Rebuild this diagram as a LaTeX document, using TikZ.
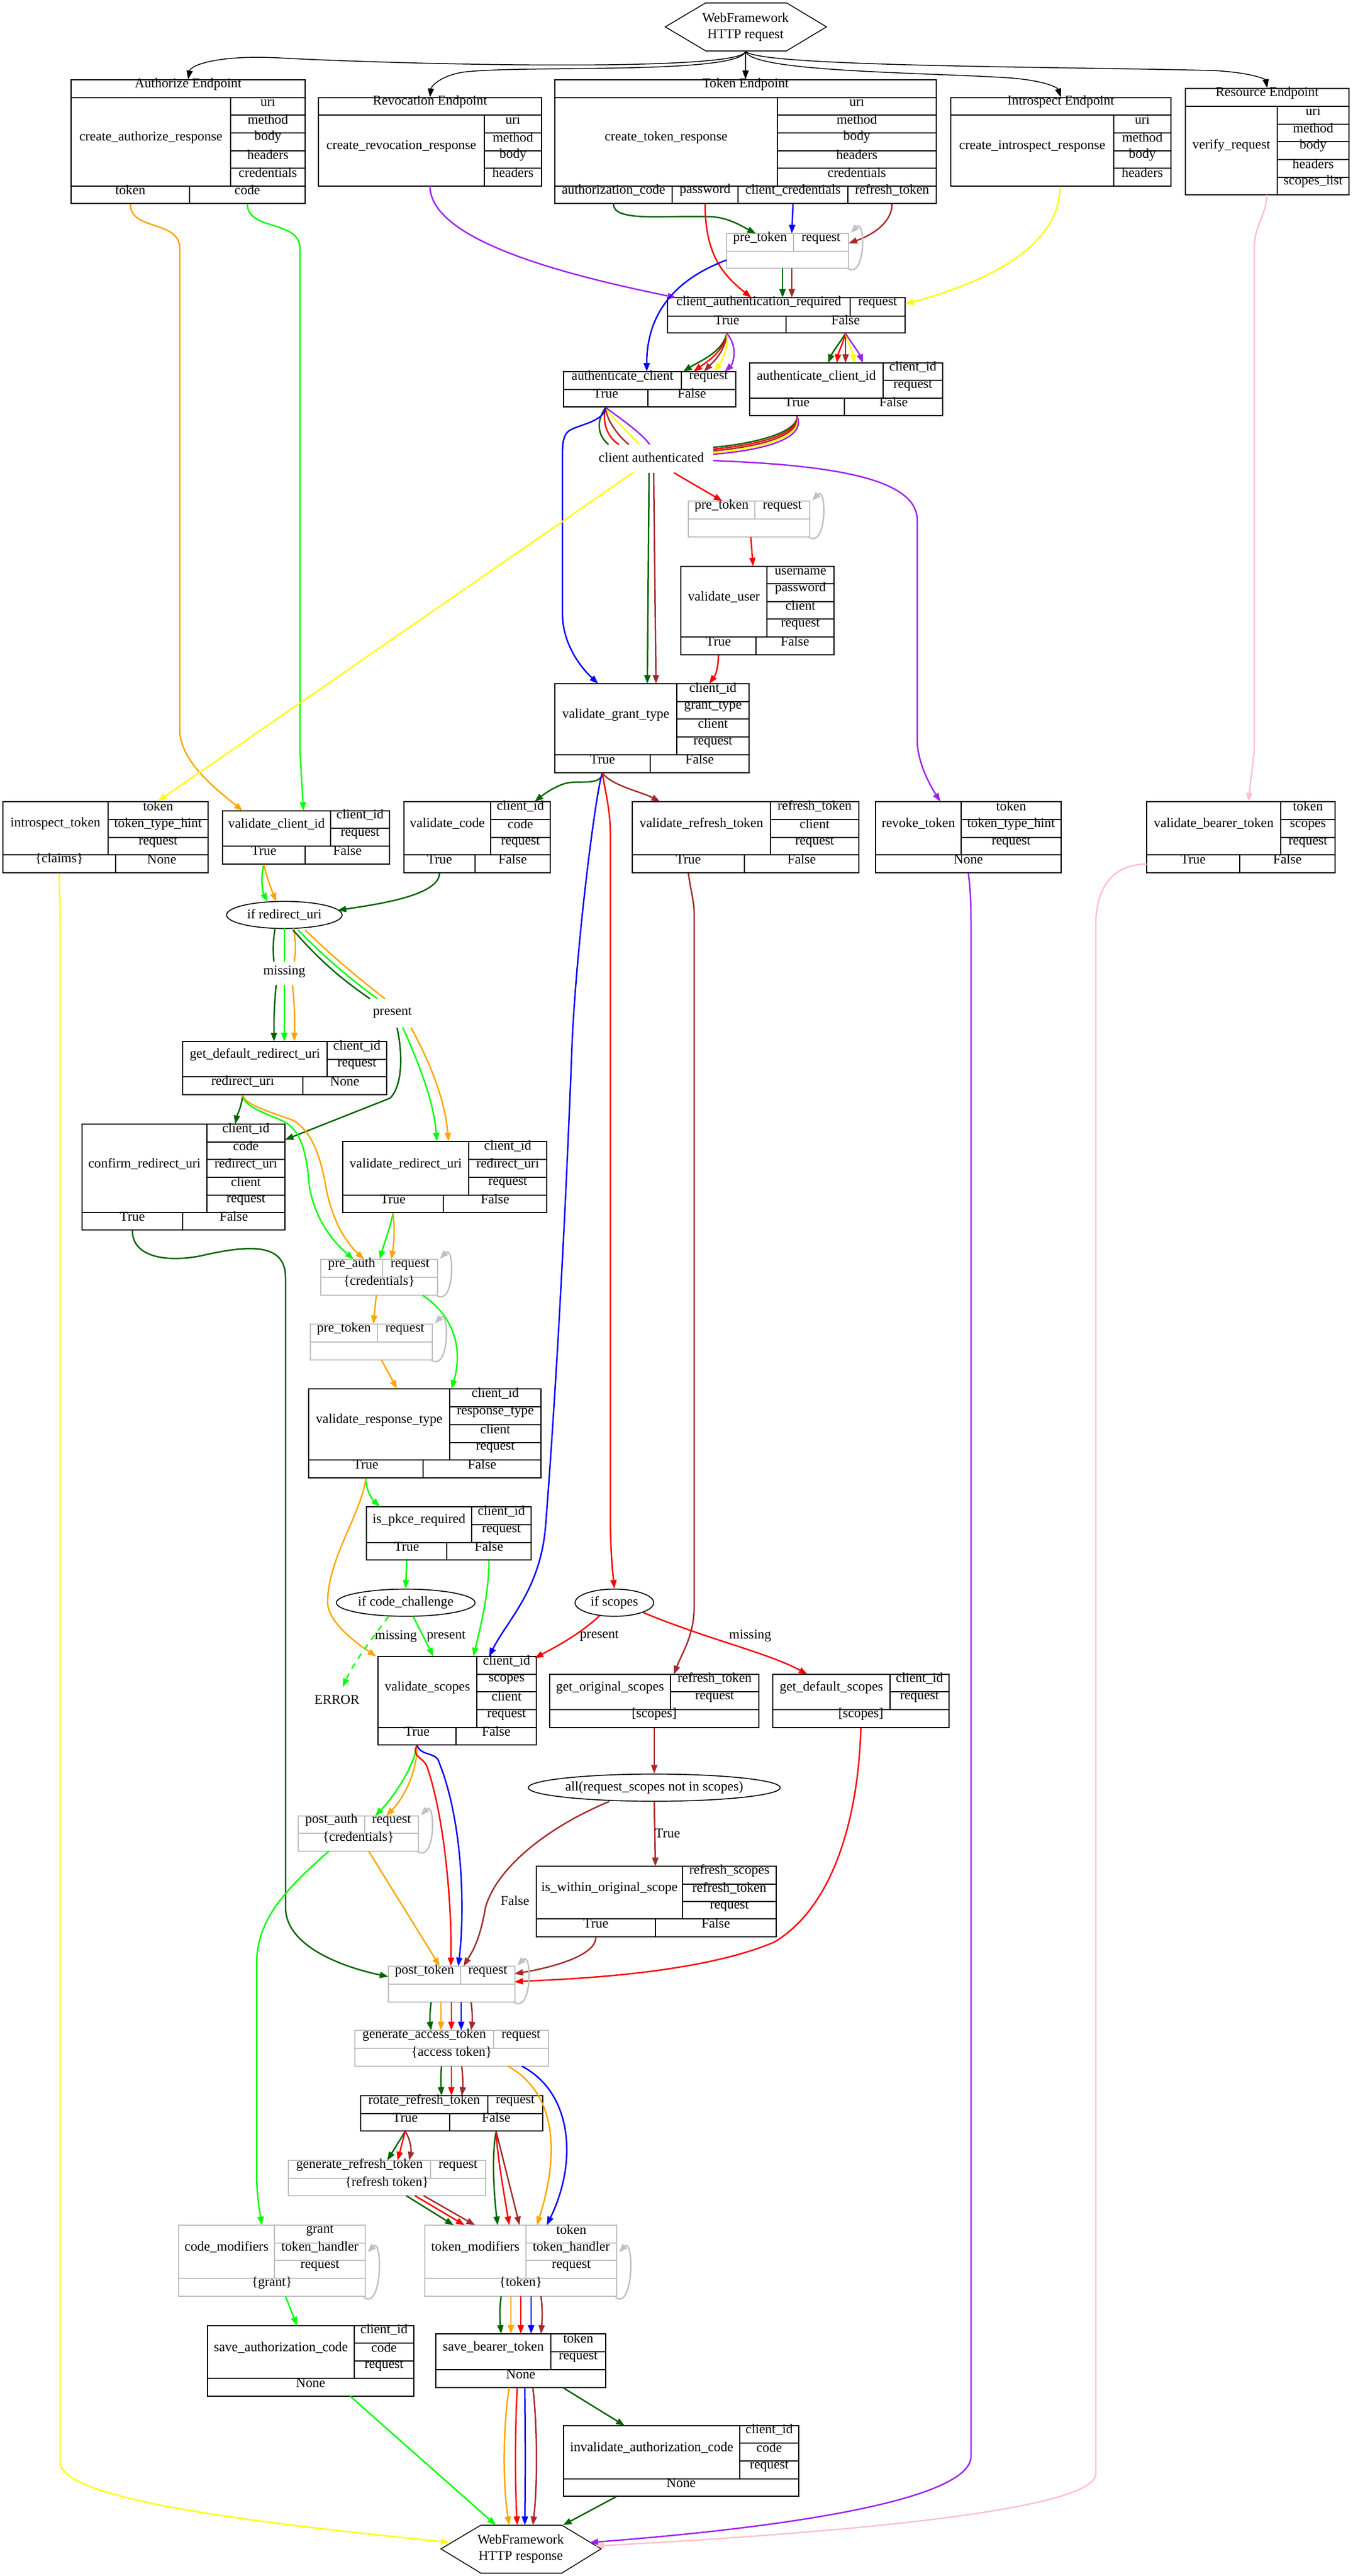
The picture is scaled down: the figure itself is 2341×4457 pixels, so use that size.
\documentclass[tikz,border=0pt]{standalone}
\usepackage{fontspec}
\setmainfont{Liberation Serif}
\usetikzlibrary{arrows.meta,fit,shapes.geometric}
\definecolor{dg}{RGB}{0,100,0}
\definecolor{lg}{RGB}{0,255,0}
\definecolor{og}{RGB}{255,165,0}
\definecolor{bw}{RGB}{165,42,42}
\definecolor{pp}{RGB}{160,32,240}
\definecolor{pk}{RGB}{255,192,203}
\definecolor{yl}{RGB}{255,255,0}
\definecolor{gy}{RGB}{192,192,192}
\newcommand\cl[7][c]{\node[#1,fit={(#3,#4)(#5,#6)}] (#2) {#7};}
\newcommand\sloop[3]{\draw[lp] (#1-2,#3) .. controls (#1+30,#3+22) and (#1+30,#2-28) .. (#1+4,#2-1);}
\begin{document}
\begin{tikzpicture}[x=0.3pt,y=-0.3pt,
 c/.style={draw,inner sep=0pt,line width=0.5pt},
 g/.style={draw=gy,inner sep=0pt,line width=0.5pt},
 e/.style={line width=0.75pt,-{Triangle[length=4.5pt,width=3.2pt]}},
 n/.style={line width=0.75pt},
 k/.style={line width=0.45pt,-{Triangle[length=4.5pt,width=3.2pt]}},
 lp/.style={gy,line width=0.75pt,-{Triangle[length=4.5pt,width=3.2pt]}},
 el/.style={ellipse,draw,inner sep=0pt,line width=0.5pt,minimum height=14.1pt},
 every node/.style={font=\fontsize{7}{8.4}\selectfont}]
\useasboundingbox (0,0) rectangle (2341,4457);
% request hexagon
\node[align=center,inner sep=0pt,minimum width=60pt,minimum height=24.9pt] (req) at (1290,46.5) {WebFramework\\HTTP request};
\draw[line width=0.45pt] (1221,5) -- (1361,5) -- (1430,46.5) -- (1361,88) -- (1221,88) -- (1151,46.5) -- cycle;
% Authorize
\cl{aeH}{123}{138}{528}{169}{Authorize Endpoint}
\cl{aeL}{123}{169}{399}{322}{create\_authorize\_response}
\cl{ae1}{399}{169}{528}{199}{uri}\cl{ae2}{399}{199}{528}{230}{method}\cl{ae3}{399}{230}{528}{261}{body}
\cl{ae4}{399}{261}{528}{291}{headers}\cl{ae5}{399}{291}{528}{322}{credentials}
\cl{aeT}{123}{322}{328}{352}{token}\cl{aeC}{328}{322}{528}{352}{code}
% Revocation
\cl{reH}{551}{169}{937}{199}{Revocation Endpoint}
\cl{reL}{551}{199}{838}{322}{create\_revocation\_response}
\cl{re1}{838}{199}{937}{230}{uri}\cl{re2}{838}{230}{937}{261}{method}\cl{re3}{838}{261}{937}{291}{body}\cl{re4}{838}{291}{937}{322}{headers}
% Token
\cl{teH}{960}{138}{1620}{169}{Token Endpoint}
\cl{teL}{960}{169}{1345}{322}{create\_token\_response}
\cl{te1}{1345}{169}{1620}{199}{uri}\cl{te2}{1345}{199}{1620}{230}{method}\cl{te3}{1345}{230}{1620}{261}{body}
\cl{te4}{1345}{261}{1620}{291}{headers}\cl{te5}{1345}{291}{1620}{322}{credentials}
\cl{teA}{960}{322}{1163}{352}{authorization\_code}\cl{teP}{1163}{322}{1277}{352}{password}
\cl{teC}{1277}{322}{1467}{352}{client\_credentials}\cl{teR}{1467}{322}{1620}{352}{refresh\_token}
% Introspect
\cl{ieH}{1645}{169}{2026}{199}{Introspect Endpoint}
\cl{ieL}{1645}{199}{1927}{322}{create\_introspect\_response}
\cl{ie1}{1927}{199}{2026}{230}{uri}\cl{ie2}{1927}{230}{2026}{261}{method}\cl{ie3}{1927}{261}{2026}{291}{body}\cl{ie4}{1927}{291}{2026}{322}{headers}
% Resource
\cl{rsH}{2051}{153}{2334}{184}{Resource Endpoint}
\cl{rsL}{2051}{184}{2210}{337}{verify\_request}
\cl{rs1}{2210}{184}{2334}{215}{uri}\cl{rs2}{2210}{215}{2334}{245}{method}\cl{rs3}{2210}{245}{2334}{276}{body}
\cl{rs4}{2210}{276}{2334}{307}{headers}\cl{rs5}{2210}{307}{2334}{337}{scopes\_list}
% pre_token 1
\cl[g]{p1a}{1257}{404}{1373}{435}{pre\_token}\cl[g]{p1b}{1373}{404}{1468}{435}{request}\cl[g]{p1c}{1257}{435}{1468}{464}{}
% client_authentication_required
\cl{carL}{1155}{515}{1471}{547}{client\_authentication\_required}\cl{carR}{1471}{515}{1566}{547}{request}
\cl{carT}{1155}{547}{1360}{576}{True}\cl{carF}{1360}{547}{1566}{576}{False}
% authenticate_client
\cl{acL}{975}{643}{1179}{674}{authenticate\_client}\cl{acR}{1179}{643}{1273}{674}{request}
\cl{acT}{975}{674}{1121}{704}{True}\cl{acF}{1121}{674}{1273}{704}{False}
% authenticate_client_id
\cl{aciL}{1297}{628}{1528}{689}{authenticate\_client\_id}\cl{aci1}{1528}{628}{1631}{658}{client\_id}\cl{aci2}{1528}{658}{1631}{689}{request}
\cl{aciT}{1297}{689}{1461}{719}{True}\cl{aciF}{1461}{689}{1631}{719}{False}
\node (cauth) at (1127,792) {client authenticated};
% pre_token 2
\cl[g]{p2a}{1191}{867}{1306}{898}{pre\_token}\cl[g]{p2b}{1306}{867}{1401}{898}{request}\cl[g]{p2c}{1191}{898}{1401}{929}{}
% validate_user
\cl{vuL}{1178}{980}{1327}{1102}{validate\_user}
\cl{vu1}{1327}{980}{1443}{1010}{username}\cl{vu2}{1327}{1010}{1443}{1041}{password}\cl{vu3}{1327}{1041}{1443}{1071}{client}\cl{vu4}{1327}{1071}{1443}{1102}{request}
\cl{vuT}{1178}{1102}{1308}{1133}{True}\cl{vuF}{1308}{1102}{1443}{1133}{False}
% validate_grant_type
\cl{vgL}{960}{1183}{1171}{1306}{validate\_grant\_type}
\cl{vg1}{1171}{1183}{1296}{1214}{client\_id}\cl{vg2}{1171}{1214}{1296}{1244}{grant\_type}\cl{vg3}{1171}{1244}{1296}{1275}{client}\cl{vg4}{1171}{1275}{1296}{1306}{request}
\cl{vgT}{960}{1306}{1125}{1337}{True}\cl{vgF}{1125}{1306}{1296}{1337}{False}
% introspect_token
\cl{itL}{5}{1387}{187}{1479}{introspect\_token}
\cl{it1}{187}{1387}{360}{1418}{token}\cl{it2}{187}{1418}{360}{1449}{token\_type\_hint}\cl{it3}{187}{1449}{360}{1479}{request}
\cl{itC}{5}{1479}{200}{1510}{\{claims\}}\cl{itN}{200}{1479}{360}{1510}{None}
% validate_client_id
\cl{vciL}{385}{1403}{572}{1464}{validate\_client\_id}\cl{vci1}{572}{1403}{674}{1433}{client\_id}\cl{vci2}{572}{1433}{674}{1464}{request}
\cl{vciT}{385}{1464}{528}{1495}{True}\cl{vciF}{528}{1464}{674}{1495}{False}
% validate_code
\cl{vcL}{699}{1387}{849}{1479}{validate\_code}
\cl{vc1}{849}{1387}{952}{1418}{client\_id}\cl{vc2}{849}{1418}{952}{1449}{code}\cl{vc3}{849}{1449}{952}{1479}{request}
\cl{vcT}{699}{1479}{822}{1510}{True}\cl{vcF}{822}{1479}{952}{1510}{False}
% validate_refresh_token
\cl{vrL}{1094}{1387}{1333}{1479}{validate\_refresh\_token}
\cl{vr1}{1333}{1387}{1486}{1418}{refresh\_token}\cl{vr2}{1333}{1418}{1486}{1449}{client}\cl{vr3}{1333}{1449}{1486}{1479}{request}
\cl{vrT}{1094}{1479}{1288}{1510}{True}\cl{vrF}{1288}{1479}{1486}{1510}{False}
% revoke_token
\cl{rtL}{1515}{1387}{1663}{1479}{revoke\_token}
\cl{rt1}{1663}{1387}{1836}{1418}{token}\cl{rt2}{1663}{1418}{1836}{1449}{token\_type\_hint}\cl{rt3}{1663}{1449}{1836}{1479}{request}
\cl{rtN}{1515}{1479}{1836}{1510}{None}
% validate_bearer_token
\cl{vbL}{1984}{1387}{2216}{1479}{validate\_bearer\_token}
\cl{vb1}{2216}{1387}{2310}{1418}{token}\cl{vb2}{2216}{1418}{2310}{1449}{scopes}\cl{vb3}{2216}{1449}{2310}{1479}{request}
\cl{vbT}{1984}{1479}{2145}{1510}{True}\cl{vbF}{2145}{1479}{2310}{1510}{False}
% if redirect_uri
\node[el,minimum width=60pt] (iru) at (492,1583) {if redirect\_uri};
\node (miss) at (492,1681) {missing};
\node (pres) at (679,1752) {present};
% get_default_redirect_uri
\cl{gdL}{316}{1802}{566}{1863}{get\_default\_redirect\_uri}\cl{gd1}{566}{1802}{669}{1833}{client\_id}\cl{gd2}{566}{1833}{669}{1863}{request}
\cl{gdR}{316}{1863}{524}{1894}{redirect\_uri}\cl{gdN}{524}{1863}{669}{1894}{None}
% confirm_redirect_uri
\cl{crL}{142}{1945}{358}{2098}{confirm\_redirect\_uri}
\cl{cr1}{358}{1945}{493}{1976}{client\_id}\cl{cr2}{358}{1976}{493}{2006}{code}\cl{cr3}{358}{2006}{493}{2037}{redirect\_uri}
\cl{cr4}{358}{2037}{493}{2068}{client}\cl{cr5}{358}{2068}{493}{2098}{request}
\cl{crT}{142}{2098}{316}{2128}{True}\cl{crF}{316}{2098}{493}{2128}{False}
% validate_redirect_uri
\cl{vdL}{593}{1975}{811}{2068}{validate\_redirect\_uri}
\cl{vd1}{811}{1975}{946}{2006}{client\_id}\cl{vd2}{811}{2006}{946}{2037}{redirect\_uri}\cl{vd3}{811}{2037}{946}{2068}{request}
\cl{vdT}{593}{2068}{767}{2098}{True}\cl{vdF}{767}{2068}{946}{2098}{False}
% pre_auth
\cl[g]{paa}{555}{2179}{662}{2210}{pre\_auth}\cl[g]{pab}{662}{2179}{757}{2210}{request}\cl[g]{pac}{555}{2210}{757}{2241}{\{credentials\}}
% pre_token 3
\cl[g]{p3a}{537}{2291}{653}{2322}{pre\_token}\cl[g]{p3b}{653}{2291}{748}{2322}{request}\cl[g]{p3c}{537}{2322}{748}{2353}{}
% validate_response_type
\cl{vtL}{534}{2403}{778}{2526}{validate\_response\_type}
\cl{vt1}{778}{2403}{936}{2434}{client\_id}\cl{vt2}{778}{2434}{936}{2465}{response\_type}\cl{vt3}{778}{2465}{936}{2496}{client}\cl{vt4}{778}{2496}{936}{2526}{request}
\cl{vtT}{534}{2526}{732}{2557}{True}\cl{vtF}{732}{2526}{936}{2557}{False}
% is_pkce_required
\cl{pkL}{634}{2607}{816}{2669}{is\_pkce\_required}\cl{pk1}{816}{2607}{919}{2638}{client\_id}\cl{pk2}{816}{2638}{919}{2669}{request}
\cl{pkT}{634}{2669}{773}{2699}{True}\cl{pkF}{773}{2669}{919}{2699}{False}
\node[el,minimum width=72pt] (icc) at (702,2773) {if code\_challenge};
\node (err) at (583,2941) {ERROR};
\node[el,minimum width=40.8pt] (ifs) at (1063,2773) {if scopes};
% validate_scopes
\cl{vsL}{654}{2866}{825}{2989}{validate\_scopes}
\cl{vs1}{825}{2866}{928}{2897}{client\_id}\cl{vs2}{825}{2897}{928}{2927}{scopes}\cl{vs3}{825}{2927}{928}{2958}{client}\cl{vs4}{825}{2958}{928}{2989}{request}
\cl{vsT}{654}{2989}{789}{3019}{True}\cl{vsF}{789}{2989}{928}{3019}{False}
% get_original_scopes
\cl{goL}{951}{2897}{1160}{2958}{get\_original\_scopes}\cl{go1}{1160}{2897}{1313}{2927}{refresh\_token}\cl{go2}{1160}{2927}{1313}{2958}{request}
\cl{goS}{951}{2958}{1313}{2989}{[scopes]}
% get_default_scopes
\cl{gsL}{1337}{2897}{1540}{2958}{get\_default\_scopes}\cl{gs1}{1540}{2897}{1642}{2927}{client\_id}\cl{gs2}{1540}{2927}{1642}{2958}{request}
\cl{gsS}{1337}{2958}{1642}{2989}{[scopes]}
\node[el,minimum width=130.8pt] (all) at (1132,3093) {all(request\_scopes not in scopes)};
% is_within_original_scope
\cl{iwL}{928}{3229}{1181}{3320}{is\_within\_original\_scope}
\cl{iw1}{1181}{3229}{1343}{3260}{refresh\_scopes}\cl{iw2}{1181}{3260}{1343}{3290}{refresh\_token}\cl{iw3}{1181}{3290}{1343}{3320}{request}
\cl{iwT}{928}{3320}{1134}{3351}{True}\cl{iwF}{1134}{3320}{1343}{3351}{False}
% post_auth
\cl[g]{qaa}{516}{3142}{631}{3172}{post\_auth}\cl[g]{qab}{631}{3142}{724}{3172}{request}\cl[g]{qac}{516}{3172}{724}{3203}{\{credentials\}}
% post_token
\cl[g]{qta}{672}{3402}{797}{3433}{post\_token}\cl[g]{qtb}{797}{3402}{891}{3433}{request}\cl[g]{qtc}{672}{3433}{891}{3464}{}
% generate_access_token
\cl[g]{gaa}{614}{3513}{854}{3544}{generate\_access\_token}\cl[g]{gab}{854}{3513}{949}{3544}{request}\cl[g]{gac}{614}{3544}{949}{3575}{\{access token\}}
% rotate_refresh_token
\cl{rra}{624}{3626}{844}{3657}{rotate\_refresh\_token}\cl{rrb}{844}{3626}{939}{3657}{request}
\cl{rrT}{624}{3657}{778}{3687}{True}\cl{rrF}{778}{3657}{939}{3687}{False}
% generate_refresh_token
\cl[g]{gra}{499}{3738}{745}{3769}{generate\_refresh\_token}\cl[g]{grb}{745}{3738}{840}{3769}{request}\cl[g]{grc}{499}{3769}{840}{3799}{\{refresh token\}}
% code_modifiers
\cl[g]{cmL}{309}{3850}{475}{3942}{code\_modifiers}
\cl[g]{cm1}{475}{3850}{632}{3881}{grant}\cl[g]{cm2}{475}{3881}{632}{3911}{token\_handler}\cl[g]{cm3}{475}{3911}{632}{3942}{request}
\cl[g]{cmG}{309}{3942}{632}{3973}{\{grant\}}
% token_modifiers
\cl[g]{tmL}{735}{3850}{910}{3942}{token\_modifiers}
\cl[g]{tm1}{910}{3850}{1067}{3881}{token}\cl[g]{tm2}{910}{3881}{1067}{3911}{token\_handler}\cl[g]{tm3}{910}{3911}{1067}{3942}{request}
\cl[g]{tmT}{735}{3942}{1067}{3973}{\{token\}}
% save_authorization_code
\cl{saL}{359}{4024}{613}{4115}{save\_authorization\_code}
\cl{sa1}{613}{4024}{716}{4054}{client\_id}\cl{sa2}{613}{4054}{716}{4085}{code}\cl{sa3}{613}{4085}{716}{4115}{request}
\cl{saN}{359}{4115}{716}{4146}{None}
% save_bearer_token
\cl{sbL}{754}{4038}{953}{4100}{save\_bearer\_token}\cl{sb1}{953}{4038}{1048}{4069}{token}\cl{sb2}{953}{4069}{1048}{4100}{request}
\cl{sbN}{754}{4100}{1048}{4131}{None}
% invalidate_authorization_code
\cl{iaL}{975}{4197}{1280}{4289}{invalidate\_authorization\_code}
\cl{ia1}{1280}{4197}{1382}{4227}{client\_id}\cl{ia2}{1280}{4227}{1382}{4258}{code}\cl{ia3}{1280}{4258}{1382}{4289}{request}
\cl{iaN}{975}{4289}{1382}{4319}{None}
% response hexagon
\node[align=center,inner sep=0pt,minimum width=60pt,minimum height=24.9pt] (resp) at (901,4410) {WebFramework\\HTTP response};
\draw[line width=0.45pt] (832,4369) -- (972,4369) -- (1040,4410) -- (972,4452) -- (832,4452) -- (763,4410) -- cycle;

% ===== black edges
\draw[k] (req.south) .. controls (1285,125) and (700,112) .. (480,100) .. controls (380,95) and (330,112) .. (aeH.north);
\draw[k] (req.south) .. controls (1280,130) and (900,112) .. (800,125) .. controls (760,132) and (746,150) .. (reH.north);
\draw[k] (req.south) -- (teH.north);
\draw[k] (req.south) .. controls (1300,125) and (1600,125) .. (1750,135) .. controls (1810,140) and (1830,152) .. (ieH.north);
\draw[k] (req.south) .. controls (1310,115) and (1800,115) .. (2100,122) .. controls (2170,126) and (2190,138) .. (rsH.north);

% ===== endpoints
\draw[e,og] (aeT.south) .. controls (225,400) and (311,380) .. (311,430) -- (311,1262) .. controls (311,1320) and (380,1370) .. (420,1403);
\draw[e,lg] (aeC.south) .. controls (428,400) and (519,380) .. (519,430) -- (519,1300) -- (525,1403);
\draw[e,pp] (744,322) .. controls (744,420) and (1000,480) .. (1170,515);
\draw[e,dg] (teA.south) .. controls (1061,385) and (1150,372) .. (1230,375) .. controls (1262,376) and (1290,395) .. (1308,404);
\draw[e,red] (teP.south) .. controls (1220,440) and (1250,475) .. (1300,515);
\draw[e,blue] (teC.south) -- (1370,404);
\draw[e,bw] (teR.south) .. controls (1543,390) and (1500,410) .. (1468,421);
\sloop{1468}{404}{464}
\draw[e,blue] (1257,450) .. controls (1150,490) and (1119,560) .. (1119,643);
\draw[e,dg] (1354,464) -- (1354,515);
\draw[e,bw] (1370,464) -- (1370,515);
\draw[e,yl] (ieL.south -| 1834,322) .. controls (1834,430) and (1700,490) .. (1566,526);
\draw[e,pk] (2192,337) .. controls (2192,370) and (2170,390) .. (2170,430) -- (2170,1300) -- (2160,1387);

% ===== car -> ac / aci
\draw[e,dg] (carT.south) .. controls (1250,610) and (1210,625) .. (1182,643);
\draw[e,red] (carT.south) .. controls (1252,610) and (1220,628) .. (1200,643);
\draw[e,bw] (carT.south) .. controls (1255,610) and (1230,630) .. (1218,643);
\draw[e,yl] (carT.south) .. controls (1262,605) and (1245,630) .. (1236,643);
\draw[e,pp] (carT.south) .. controls (1278,600) and (1268,630) .. (1254,643);
\draw[e,dg] (carF.south) .. controls (1455,590) and (1440,610) .. (1433,628);
\draw[e,red] (carF.south) .. controls (1458,595) and (1450,612) .. (1448,628);
\draw[e,bw] (carF.south) -- (1463,628);
\draw[e,yl] (carF.south) .. controls (1468,595) and (1476,612) .. (1478,628);
\draw[e,pp] (carF.south) .. controls (1471,590) and (1486,610) .. (1493,628);

% ===== into client authenticated
\draw[n,dg] (acT.south) .. controls (1030,730) and (1035,755) .. (1053,769);
\draw[n,red] (acT.south) .. controls (1040,735) and (1055,760) .. (1071,769);
\draw[n,bw] (acT.south) .. controls (1048,725) and (1070,755) .. (1088,769);
\draw[n,yl] (acT.south) .. controls (1055,720) and (1090,750) .. (1106,769);
\draw[n,pp] (acT.south) .. controls (1060,715) and (1110,748) .. (1124,769);
\draw[e,blue] (acT.south) .. controls (1045,730) and (1000,735) .. (985,745) .. controls (975,752) and (973,765) .. (973,790) -- (973,1060) .. controls (973,1110) and (1000,1150) .. (1035,1183);
\draw[n,dg] (aciT.south) .. controls (1381,745) and (1320,766) .. (1234,774);
\draw[n,red] (aciT.south) .. controls (1384,748) and (1322,769) .. (1234,777);
\draw[n,bw] (aciT.south) .. controls (1387,751) and (1324,772) .. (1234,780);
\draw[n,yl] (aciT.south) .. controls (1390,754) and (1326,775) .. (1234,783);
\draw[n,pp] (aciT.south) .. controls (1395,757) and (1330,778) .. (1234,786);

% ===== out of client authenticated
\draw[e,yl] (1095,818) -- (it1.north);
\draw[e,dg] (1123,818) -- (1120,1183);
\draw[e,bw] (1131,818) -- (1135,1183);
\draw[e,red] (1166,818) -- (1250,867);
\draw[e,pp] (1234,797) .. controls (1450,805) and (1587,830) .. (1587,900) -- (1587,1280) .. controls (1587,1320) and (1610,1360) .. (1627,1387);
\sloop{1401}{867}{929}
\draw[e,red] (1299,929) -- (1303,980);
\draw[e,red] (vuT.south) .. controls (1243,1150) and (1240,1165) .. (1227,1183);

% ===== validate_grant_type True
\draw[e,dg] (vgT.south) .. controls (1040,1360) and (1000,1350) .. (980,1355) .. controls (960,1360) and (940,1375) .. (925,1387);
\draw[e,bw] (vgT.south) .. controls (1060,1360) and (1110,1370) .. (1142,1387);
\draw[e,blue] (vgT.south) .. controls (1035,1345) and (1000,1600) .. (990,1800) .. controls (975,2200) and (955,2500) .. (944,2640) .. controls (935,2750) and (880,2800) .. (846,2866);
\draw[e,red] (vgT.south) .. controls (1045,1360) and (1056,1400) .. (1056,1440) -- (1056,2620) .. controls (1056,2680) and (1060,2720) .. (ifs.north);
\draw[e,bw] (vrT.south) .. controls (1195,1540) and (1201,1560) .. (1201,1580) -- (1201,2780) .. controls (1201,2830) and (1180,2860) .. (1166,2897);
\draw[e,pp] (rtN.south) .. controls (1679,1540) and (1680,1560) .. (1680,1600) -- (1680,4250) .. controls (1680,4320) and (1400,4370) .. (1020,4399);
\draw[e,pk] (1984,1495) .. controls (1930,1495) and (1896,1530) .. (1896,1600) -- (1896,4280) .. controls (1896,4340) and (1500,4380) .. (1030,4405);
\draw[e,yl] (itC.south) .. controls (103,1540) and (104,1560) .. (104,1600) -- (104,4260) .. controls (104,4330) and (500,4370) .. (778,4399);

% ===== redirect uri flow
\draw[e,lg] (vciT.south) .. controls (450,1520) and (455,1545) .. (463,1560);
\draw[e,og] (vciT.south) .. controls (462,1520) and (472,1545) .. (478,1560);
\draw[e,dg] (vcT.south) .. controls (760,1550) and (650,1565) .. (584,1575);
\draw[n,dg] (476,1606) .. controls (472,1630) and (472,1645) .. (474,1664);
\draw[n,lg] (492,1606) -- (492,1664);
\draw[n,og] (508,1606) .. controls (512,1630) and (512,1645) .. (509,1664);
\draw[e,dg] (478,1704) .. controls (474,1740) and (474,1770) .. (474,1802);
\draw[e,lg] (492,1704) -- (492,1802);
\draw[e,og] (506,1704) .. controls (510,1740) and (510,1770) .. (509,1802);
\draw[n,dg] (507,1609) .. controls (560,1670) and (600,1700) .. (640,1728);
\draw[n,lg] (516,1609) .. controls (570,1665) and (615,1700) .. (653,1728);
\draw[n,og] (528,1609) .. controls (580,1660) and (630,1700) .. (666,1728);
\draw[e,dg] (687,1778) .. controls (698,1830) and (695,1880) .. (675,1900) -- (493,1972);
\draw[e,lg] (697,1778) .. controls (720,1830) and (750,1900) .. (756,1975);
\draw[e,og] (711,1778) .. controls (740,1830) and (770,1900) .. (776,1975);
\draw[e,dg] (gdR.south) .. controls (418,1915) and (410,1930) .. (407,1945);
\draw[e,lg] (gdR.south) .. controls (420,1915) and (470,1930) .. (490,1940) .. controls (520,1955) and (530,1990) .. (535,2050) .. controls (545,2120) and (590,2160) .. (612,2179);
\draw[e,og] (gdR.south) .. controls (425,1915) and (490,1930) .. (510,1940) .. controls (540,1960) and (555,2000) .. (565,2060) .. controls (580,2130) and (610,2160) .. (630,2179);
\draw[e,lg] (vdT.south) .. controls (675,2125) and (665,2150) .. (657,2179);
\draw[e,og] (vdT.south) .. controls (683,2125) and (682,2150) .. (677,2179);
\sloop{757}{2179}{2241}
\draw[e,og] (651,2241) -- (646,2291);
\draw[e,lg] (731,2241) .. controls (790,2280) and (800,2340) .. (781,2403);
\sloop{748}{2291}{2353}
\draw[e,og] (660,2353) -- (687,2403);
\draw[e,lg] (vtT.south) .. controls (633,2580) and (645,2595) .. (657,2607);
\draw[e,og] (vtT.south) .. controls (625,2620) and (565,2700) .. (567,2775) .. controls (570,2810) and (620,2845) .. (651,2866);
\draw[e,lg] (pkT.south) -- (icc.north);
\draw[e,lg] (pkF.south) .. controls (846,2760) and (830,2820) .. (819,2866);
\draw[e,lg,dashed] (672,2797) .. controls (640,2840) and (610,2880) .. (593,2919);
\draw[e,lg] (715,2797) -- (750,2866);
\node at (685,2831) {missing};
\node at (772,2831) {present};
\draw[e,red] (1037,2796) .. controls (1000,2830) and (960,2850) .. (925,2869);
\draw[e,red] (1113,2790) .. controls (1220,2835) and (1330,2860) .. (1397,2897);
\node at (1037,2830) {present};
\node at (1298,2830) {missing};
\draw[e,bw] (goS.south) -- (all.north);
\draw[e,red] (gsS.south) .. controls (1485,3150) and (1440,3300) .. (1340,3360) .. controls (1200,3420) and (950,3425) .. (890,3429);
\draw[e,bw] (all.south) -- (1134,3229);
\node at (1155,3172) {True};
\draw[e,bw] (1054,3117) .. controls (950,3160) and (860,3230) .. (840,3300) .. controls (830,3360) and (815,3380) .. (802,3402);
\node at (891,3288) {False};
\draw[e,bw] (iwT.south) .. controls (1031,3385) and (950,3405) .. (890,3415);

% ===== validate_scopes True
\draw[e,lg] (vsT.south) .. controls (715,3060) and (680,3110) .. (649,3142);
\draw[e,og] (vsT.south) .. controls (722,3070) and (695,3115) .. (668,3142);
\draw[e,red] (vsT.south) .. controls (710,3040) and (735,3040) .. (740,3060) .. controls (770,3150) and (782,3300) .. (780,3402);
\draw[e,blue] (vsT.south) .. controls (730,3040) and (755,3030) .. (760,3050) .. controls (800,3150) and (805,3300) .. (793,3402);
\draw[e,dg] (crT.south) .. controls (229,2180) and (300,2185) .. (360,2170) .. controls (430,2155) and (494,2150) .. (494,2210) -- (494,3300) .. controls (494,3370) and (600,3405) .. (672,3420);
\sloop{724}{3142}{3203}
\draw[e,og] (638,3203) -- (761,3402);
\draw[e,lg] (569,3203) .. controls (480,3280) and (444,3330) .. (444,3400) -- (444,3760) .. controls (444,3800) and (450,3830) .. (453,3850);
\sloop{891}{3402}{3464}
\draw[e,dg] (746,3464) .. controls (743,3485) and (744,3500) .. (746,3513);
\draw[e,og] (763,3464) -- (763,3513);
\draw[e,red] (781,3464) -- (781,3513);
\draw[e,blue] (798,3464) -- (798,3513);
\draw[e,bw] (815,3464) .. controls (818,3485) and (817,3500) .. (815,3513);
\draw[e,dg] (764,3575) .. controls (762,3595) and (763,3610) .. (764,3626);
\draw[e,red] (781,3575) -- (781,3626);
\draw[e,bw] (799,3575) .. controls (801,3595) and (801,3610) .. (799,3626);
\draw[e,og] (879,3575) .. controls (960,3620) and (970,3720) .. (929,3850);
\draw[e,blue] (903,3575) .. controls (990,3620) and (1000,3740) .. (946,3850);
\draw[e,dg] (rrT.south) -- (670,3738);
\draw[e,red] (rrT.south) -- (688,3738);
\draw[e,bw] (rrT.south) .. controls (710,3700) and (712,3720) .. (708,3738);
\draw[e,dg] (rrF.south) .. controls (850,3730) and (855,3800) .. (861,3850);
\draw[e,red] (rrF.south) .. controls (860,3730) and (873,3800) .. (881,3850);
\draw[e,bw] (rrF.south) -- (899,3850);
\draw[e,dg] (703,3799) -- (785,3850);
\draw[e,red] (718,3799) -- (804,3850);
\draw[e,bw] (733,3799) -- (822,3850);
\sloop{632}{3898}{3975}
\sloop{1067}{3898}{3975}
\draw[e,lg] (494,3973) -- (514,4024);
\draw[e,dg] (867,3973) .. controls (864,3995) and (865,4015) .. (867,4038);
\draw[e,og] (884,3973) -- (884,4038);
\draw[e,red] (901,3973) -- (901,4038);
\draw[e,blue] (919,3973) -- (919,4038);
\draw[e,bw] (936,3973) .. controls (939,3995) and (938,4015) .. (936,4038);
\draw[e,lg] (606,4146) -- (858,4369);
\draw[e,og] (881,4131) .. controls (870,4200) and (870,4300) .. (881,4369);
\draw[e,red] (895,4131) .. controls (891,4200) and (891,4300) .. (895,4369);
\draw[e,blue] (908,4131) .. controls (909,4200) and (909,4300) .. (908,4369);
\draw[e,bw] (922,4131) .. controls (930,4200) and (930,4300) .. (922,4369);
\draw[e,dg] (974,4131) -- (1081,4197);
\draw[e,dg] (iaN.south -| 1066,4319) -- (974,4369);
\end{tikzpicture}
\end{document}
